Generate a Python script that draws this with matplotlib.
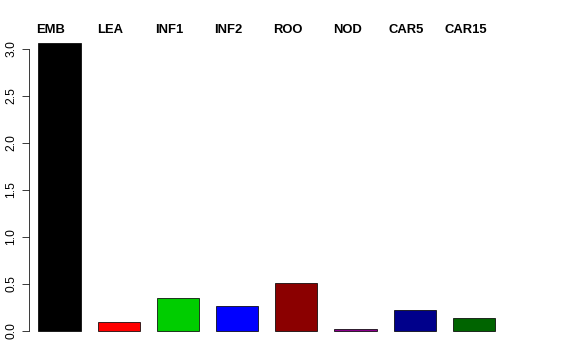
import matplotlib
matplotlib.use("Agg")
import matplotlib.pyplot as plt
import numpy as np

categories = ["EMB", "LEA", "INF1", "INF2", "ROO", "NOD", "CAR5", "CAR15"]
values = [3.067, 0.099, 0.351, 0.266, 0.514, 0.018, 0.227, 0.142]
colors = ["#000000", "#FF0000", "#00CD00", "#0000FF", "#8B0000", "#8B008B", "#00008B", "#006400"]
yticks = [0.0, 0.5, 1.0, 1.5, 2.0, 2.5, 3.0]

plt.rcParams['font.family'] = ['Liberation Sans', 'DejaVu Sans']

W, H = 576, 360
fig = plt.figure(figsize=(W / 72, H / 72), dpi=72)

# axes in pixel placement
left_px, right_px, top_px, bottom_px = 29.0, 560, 31, 342
ax = fig.add_axes([left_px / W, 1 - bottom_px / H, (right_px - left_px) / W, (bottom_px - top_px) / H])

x0, xs = 21.38, 42.29  # pixel of x=0, pixels per unit
y0, ys = 331, 94.0
ax.set_xlim((left_px - x0) / xs, (right_px - x0) / xs)
ax.set_ylim(-(bottom_px - y0) / ys, (y0 - top_px) / ys)

n = len(categories)
lefts = 0.4 + 1.4 * np.arange(n)
ax.bar(lefts, values, width=1.0, align='edge', color=colors, edgecolor='black', linewidth=0.75)

for i, c in enumerate(categories):
    ax.text(0.7 + 1.4 * i, (y0 - 30) / ys, c, ha='center', va='center', fontsize=13,
            fontweight='bold', clip_on=False)

for s in ['top', 'right', 'bottom']:
    ax.spines[s].set_visible(False)
ax.spines['left'].set_bounds(0, 3.0)
ax.spines['left'].set_linewidth(0.75)
ax.set_xticks([])
ax.set_yticks(yticks)
ax.set_yticklabels([f"{t:.1f}" for t in yticks], rotation=90, va='center', fontsize=12)
ax.tick_params(axis='y', length=7.5, width=0.75, pad=4)

fig.savefig("out.png", dpi=72)
